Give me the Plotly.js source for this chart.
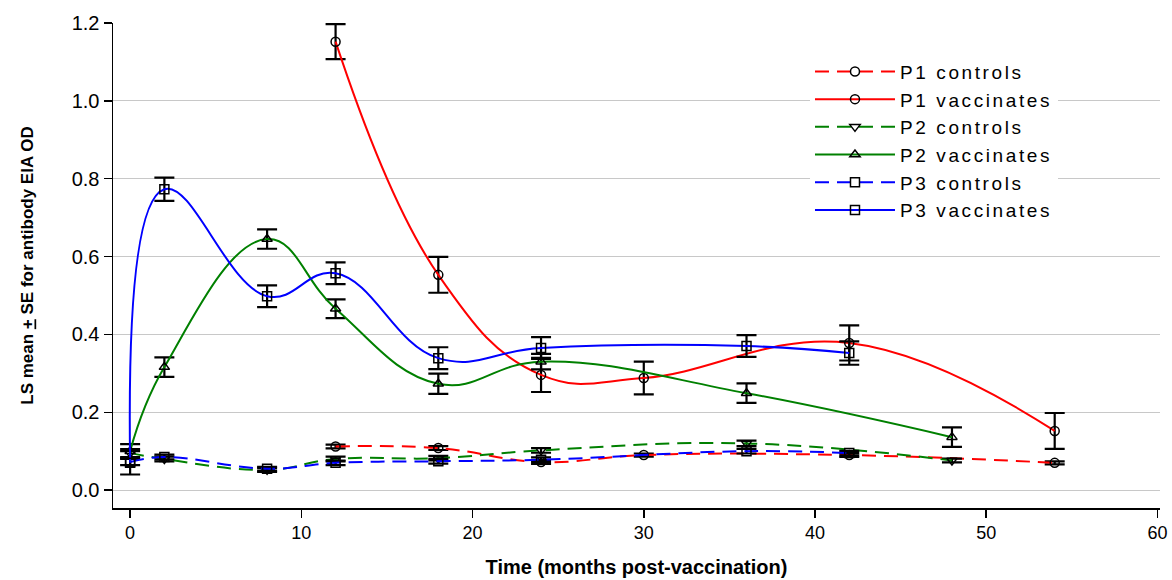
<!DOCTYPE html>
<html>
<head>
<meta charset="utf-8">
<script src="https://cdn.plot.ly/plotly-3.0.1.min.js"></script>
<style>
  html, body { margin: 0; padding: 0; background: #fff; }
  #chart { width: 1172px; height: 580px; }
  .legendtext { letter-spacing: 2.6px; }
</style>
</head>
<body>
<div id="chart"></div>
<script>
// ---- data ----
const seriesNames = ["P1 controls", "P1 vaccinates", "P2 controls", "P2 vaccinates", "P3 controls", "P3 vaccinates"];

const p1Months = [12, 18, 24, 30, 42, 54];
const p1Controls = [0.112, 0.108, 0.072, 0.090, 0.090, 0.070];
const p1ControlsSE = [0.005, 0.005, 0.005, 0.004, 0.005, 0.004];
const p1Vaccinates = [1.152, 0.553, 0.296, 0.288, 0.378, 0.152];
const p1VaccinatesSE = [0.045, 0.046, 0.044, 0.042, 0.045, 0.046];

const p2Months = [0, 2, 8, 12, 18, 24, 36, 48];
const p2Controls = [0.095, 0.080, 0.052, 0.080, 0.082, 0.102, 0.120, 0.076];
const p2ControlsSE = [0.010, 0.006, 0.005, 0.006, 0.006, 0.006, 0.007, 0.005];
const p2Vaccinates = [0.100, 0.316, 0.645, 0.466, 0.273, 0.330, 0.249, 0.136];
const p2VaccinatesSE = [0.018, 0.025, 0.025, 0.024, 0.026, 0.020, 0.025, 0.025];

const p3Months = [0, 2, 8, 12, 18, 24, 36, 42];
const p3Controls = [0.072, 0.085, 0.055, 0.070, 0.074, 0.078, 0.100, 0.095];
const p3ControlsSE = [0.008, 0.006, 0.005, 0.006, 0.006, 0.006, 0.006, 0.006];
const p3Vaccinates = [0.070, 0.773, 0.498, 0.557, 0.339, 0.365, 0.370, 0.352];
const p3VaccinatesSE = [0.030, 0.030, 0.028, 0.028, 0.028, 0.028, 0.028, 0.030];

const yTickVals = [0, 0.2, 0.4, 0.6, 0.8, 1.0, 1.2];
const xTickVals = [0, 10, 20, 30, 40, 50, 60];

// ---- styling ----
const RED = "#ff0000", GREEN = "#008000", BLUE = "#0000ff";
const DASH = "14px,8px";

function mk(name, x, y, se, color, dashed, symbol) {
  return {
    type: "scatter",
    mode: "lines+markers",
    name: name,
    x: x,
    y: y,
    cliponaxis: false,
    line: { color: color, width: 2, shape: "spline", smoothing: 1.2, dash: dashed ? DASH : "solid" },
    marker: { symbol: symbol, size: 9, color: "black", line: { color: "black", width: 1.5 } },
    error_y: { type: "data", array: se, visible: true, color: "black", thickness: 2.2, width: 10 }
  };
}

const traces = [
  mk(seriesNames[0], p1Months, p1Controls, p1ControlsSE, RED, true, "circle-open"),
  mk(seriesNames[1], p1Months, p1Vaccinates, p1VaccinatesSE, RED, false, "circle-open"),
  mk(seriesNames[2], p2Months, p2Controls, p2ControlsSE, GREEN, true, "triangle-down-open"),
  mk(seriesNames[3], p2Months, p2Vaccinates, p2VaccinatesSE, GREEN, false, "triangle-up-open"),
  mk(seriesNames[4], p3Months, p3Controls, p3ControlsSE, BLUE, true, "square-open"),
  mk(seriesNames[5], p3Months, p3Vaccinates, p3VaccinatesSE, BLUE, false, "square-open")
];

const layout = {
  width: 1172,
  height: 580,
  margin: { l: 113, r: 12, t: 23, b: 72, pad: 0 },
  paper_bgcolor: "#ffffff",
  plot_bgcolor: "#ffffff",
  font: { family: "Liberation Sans, Arial, sans-serif", color: "#000000" },
  showlegend: true,
  legend: {
    x: 0.6657, y: 0.939, xanchor: "left", yanchor: "top",
    bgcolor: "#ffffff",
    borderwidth: 0,
    itemwidth: 80,
    font: { family: "Liberation Sans, Arial, sans-serif", size: 19, color: "#000" },
    tracegroupgap: 0
  },
  xaxis: {
    range: [-1, 60.15],
    tickvals: xTickVals,
    ticktext: xTickVals.map(String),
    showgrid: false,
    zeroline: false,
    showline: true,
    linecolor: "#000",
    linewidth: 1.5,
    ticks: "outside",
    ticklen: 8,
    tickwidth: 1.5,
    tickcolor: "#000",
    tickfont: { family: "Liberation Sans Narrow, Liberation Sans, Arial, sans-serif", size: 18 },
    title: { text: "<b>Time (months post-vaccination)</b>", font: { family: "Liberation Sans, Arial, sans-serif", size: 20 }, standoff: 18 }
  },
  yaxis: {
    range: [-0.046, 1.2],
    tickvals: yTickVals,
    tickformat: ".1f",
    showgrid: true,
    gridcolor: "#c8c8c8",
    gridwidth: 1,
    zeroline: false,
    showline: true,
    linecolor: "#000",
    linewidth: 1.5,
    ticks: "outside",
    ticklen: 8,
    tickwidth: 1.5,
    tickcolor: "#000",
    tickfont: { family: "Liberation Sans, Arial, sans-serif", size: 20 },
    title: { text: "<b>LS mean <u>+</u> SE for antibody EIA OD</b>", font: { family: "Liberation Sans, Arial, sans-serif", size: 17 }, standoff: 33 }
  }
};

Plotly.newPlot("chart", traces, layout, { displayModeBar: false, staticPlot: true });
</script>
</body>
</html>
